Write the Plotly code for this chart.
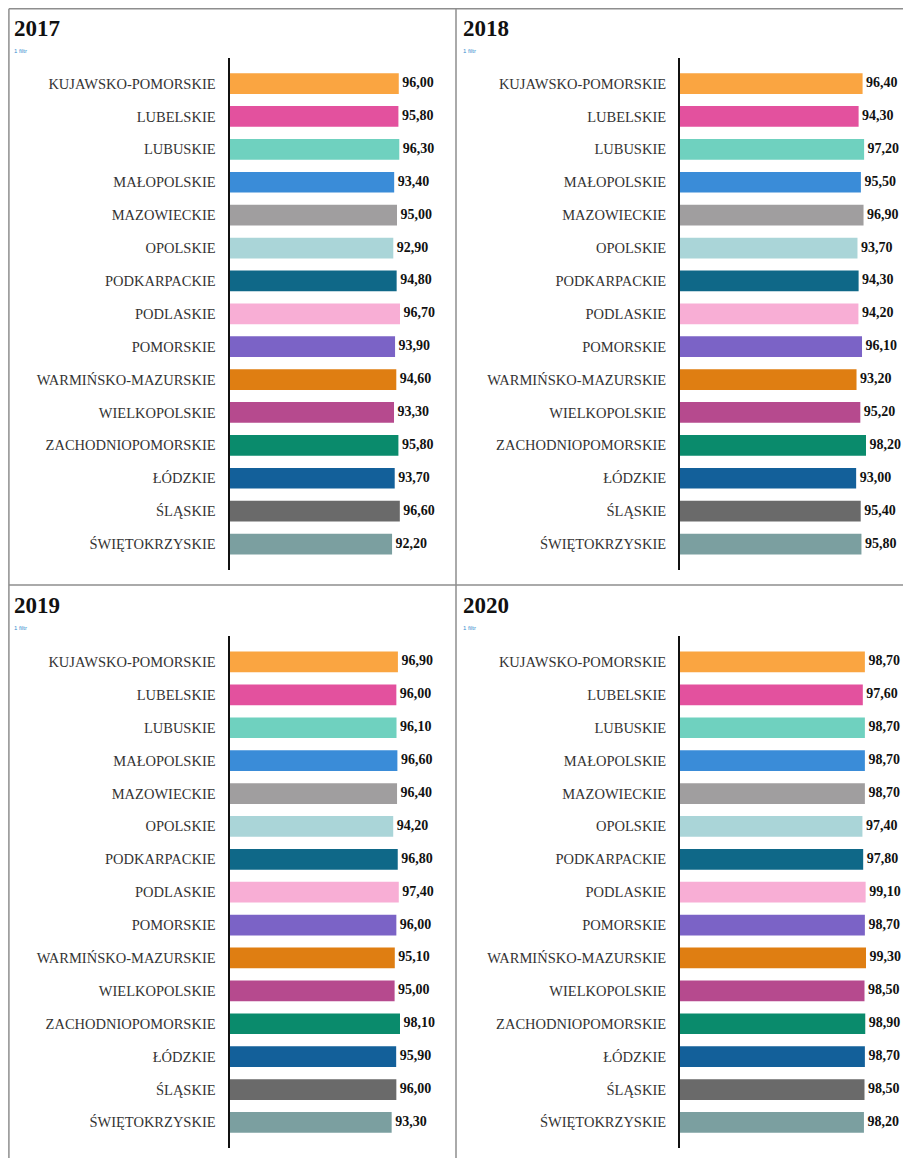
import plotly.graph_objects as go

categories = ["KUJAWSKO-POMORSKIE", "LUBELSKIE", "LUBUSKIE", "MAŁOPOLSKIE", "MAZOWIECKIE",
              "OPOLSKIE", "PODKARPACKIE", "PODLASKIE", "POMORSKIE", "WARMIŃSKO-MAZURSKIE",
              "WIELKOPOLSKIE", "ZACHODNIOPOMORSKIE", "ŁÓDZKIE", "ŚLĄSKIE", "ŚWIĘTOKRZYSKIE"]

years = ["2017", "2018", "2019", "2020"]

values_2017 = [96.0, 95.8, 96.3, 93.4, 95.0, 92.9, 94.8, 96.7, 93.9, 94.6, 93.3, 95.8, 93.7, 96.6, 92.2]
values_2018 = [96.4, 94.3, 97.2, 95.5, 96.9, 93.7, 94.3, 94.2, 96.1, 93.2, 95.2, 98.2, 93.0, 95.4, 95.8]
values_2019 = [96.9, 96.0, 96.1, 96.6, 96.4, 94.2, 96.8, 97.4, 96.0, 95.1, 95.0, 98.1, 95.9, 96.0, 93.3]
values_2020 = [98.7, 97.6, 98.7, 98.7, 98.7, 97.4, 97.8, 99.1, 98.7, 99.3, 98.5, 98.9, 98.7, 98.5, 98.2]

colors = ["#FAA541", "#E3519E", "#6FD1BF", "#3A8CD8", "#A09E9F",
          "#AAD5D8", "#0F6888", "#F8AED5", "#7B63C6", "#DF7E12",
          "#B64A8E", "#0A8B6C", "#13609A", "#6A6A6A", "#7B9FA0"]

filter_label = "1 filtr"

all_values = [values_2017, values_2018, values_2019, values_2020]

# the page body adds an 8px margin, so the figure is drawn 8px smaller and shifted
OFF = 8
W, H = 911 - OFF, 1158 - OFF
SERIF = "Liberation Serif, Times New Roman, serif"


def px(x):
    return (x - OFF) / W


def py(y):
    return 1 - (y - OFF) / H


# panel geometry (reference pixels)
panels = [
    dict(x0=229.5, x1=400.0, y0=58.0, y1=569.6, bx=7, by=8),
    dict(x0=680.0, x1=866.0, y0=58.0, y1=569.6, bx=456, by=8),
    dict(x0=229.5, x1=400.0, y0=636.4, y1=1148.0, bx=7, by=585),
    dict(x0=680.0, x1=866.0, y0=636.4, y1=1148.0, bx=456, by=585),
]

fig = go.Figure()
layout_axes = {}
annotations = []

for i, (yr, vals, p) in enumerate(zip(years, all_values, panels)):
    n = "" if i == 0 else str(i + 1)
    xa, ya = "x" + n, "y" + n
    fig.add_trace(go.Bar(
        x=vals, y=categories, orientation="h", xaxis=xa, yaxis=ya,
        marker=dict(color=colors, line=dict(width=0)), showlegend=False,
        hoverinfo="x+y",
    ))
    fig.add_trace(go.Scatter(
        x=vals, y=categories, mode="text", xaxis=xa, yaxis=ya,
        text=[" " + f"{v:.2f}".replace(".", ",") for v in vals],
        textposition="middle right", cliponaxis=False,
        textfont=dict(family=SERIF, size=14, color="#111111", weight="bold"),
        showlegend=False, hoverinfo="skip",
    ))
    layout_axes["xaxis" + n] = dict(
        domain=[px(p["x0"]), px(p["x1"])], range=[0, max(vals)],
        visible=False, anchor=ya, fixedrange=True,
    )
    layout_axes["yaxis" + n] = dict(
        domain=[py(p["y1"]), py(p["y0"])], anchor=xa,
        autorange="reversed", showline=True, linecolor="#111111", linewidth=2,
        showgrid=False, zeroline=False, ticks="outside", ticklen=9,
        tickcolor="rgba(0,0,0,0)",
        tickfont=dict(family=SERIF, size=14.5, color="#333333"),
    )
    annotations.append(dict(
        text=f"<b>{yr}</b>", xref="paper", yref="paper",
        x=px(p["bx"] + 5), y=py(p["by"] + 20),
        xanchor="left", yanchor="middle", showarrow=False,
        font=dict(family=SERIF, size=23, color="#111111"),
    ))
    annotations.append(dict(
        text=filter_label, xref="paper", yref="paper",
        x=px(p["bx"] + 5), y=py(p["by"] + 43),
        xanchor="left", yanchor="middle", showarrow=False,
        font=dict(family="Liberation Sans, Arial, sans-serif", size=6, color="#3A8FD0"),
    ))

border = dict(color="#8E8E8E", width=1.5)
shapes = [
    dict(type="line", xref="paper", yref="paper", x0=0.001, x1=1, y0=py(8.7), y1=py(8.7), line=border),
    dict(type="line", xref="paper", yref="paper", x0=0.001, x1=1, y0=py(585), y1=py(585), line=border),
    dict(type="line", xref="paper", yref="paper", x0=0.001, x1=0.001, y0=0, y1=py(8.7), line=border),
    dict(type="line", xref="paper", yref="paper", x0=px(456), x1=px(456), y0=0, y1=py(8.7), line=border),
]

fig.update_layout(
    width=W, height=H, margin=dict(l=0, r=0, t=0, b=0),
    paper_bgcolor="white", plot_bgcolor="white",
    bargap=0.37, annotations=annotations, shapes=shapes, showlegend=False,
    **layout_axes,
)

fig.write_html("out.html")
